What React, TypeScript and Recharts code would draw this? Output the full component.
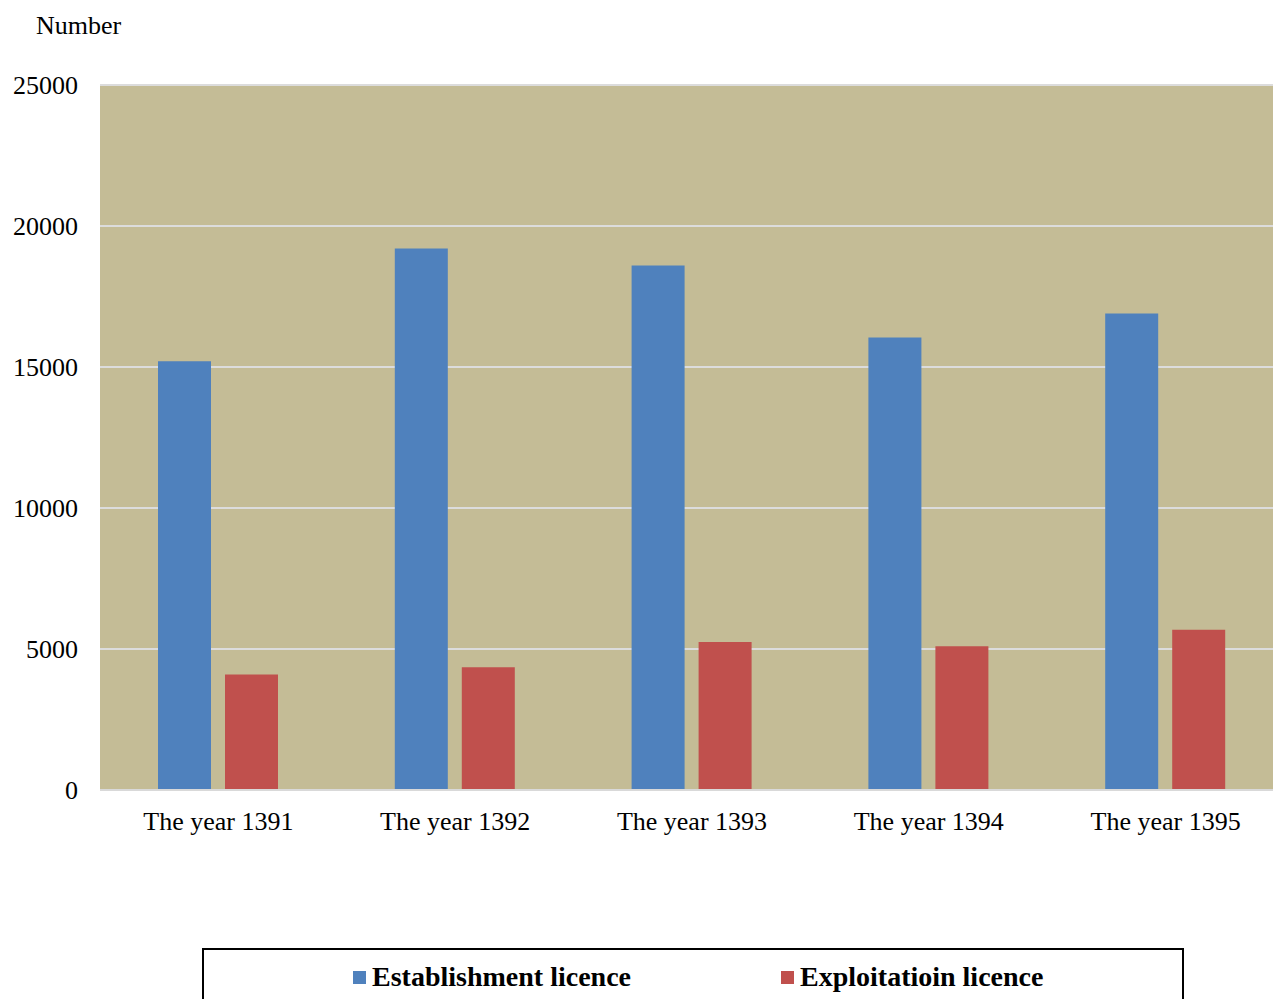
import { Bar, BarChart, CartesianGrid, XAxis, YAxis } from "recharts";

const YEARS = ["The year 1391", "The year 1392", "The year 1393", "The year 1394", "The year 1395"];
const ESTABLISHMENT = [15200, 19200, 18600, 16050, 16900];
const EXPLOITATION = [4100, 4350, 5250, 5100, 5680];
const Y_TICKS = [0, 5000, 10000, 15000, 20000, 25000];
const SERIES_NAMES = ["Establishment licence", "Exploitatioin licence"];
const COLORS = ["#4F81BD", "#C0504D"];

const FONT = '"Liberation Serif", "Times New Roman", serif';

export default function App() {
  const data = YEARS.map((year, i) => ({
    year,
    establishment: ESTABLISHMENT[i],
    exploitation: EXPLOITATION[i],
  }));

  return (
    <div
      style={{
        position: "absolute",
        top: 0,
        left: 0,
        width: 1273,
        height: 999,
        overflow: "hidden",
        background: "#fff",
        fontFamily: FONT,
      }}
    >
      <div style={{ position: "absolute", left: 36, top: 11, fontSize: 26, color: "#000" }}>
        Number
      </div>
      {/* the source image is cropped on the right, so the plot runs a little past the edge */}
      <BarChart
        width={1284}
        height={999}
        data={data}
        margin={{ top: 85, right: 0, bottom: 179, left: 1 }}
        barSize={53}
        barGap={14}
      >
        <CartesianGrid
          vertical={false}
          fill="#C4BC96"
          fillOpacity={1}
          stroke="#DCDCDC"
          strokeWidth={2}
        />
        <XAxis
          dataKey="year"
          height={30}
          axisLine={{ stroke: "#D9D9D9", strokeWidth: 2 }}
          tickLine={false}
          tickMargin={16}
          tick={{ fill: "#000", fontSize: 26, fontFamily: FONT }}
        />
        <YAxis
          width={99}
          domain={[0, 25000]}
          ticks={Y_TICKS}
          axisLine={false}
          tickLine={false}
          tickMargin={16}
          tick={{ fill: "#000", fontSize: 26, fontFamily: FONT }}
        />
        <Bar dataKey="establishment" name={SERIES_NAMES[0]} fill={COLORS[0]} isAnimationActive={false} />
        <Bar dataKey="exploitation" name={SERIES_NAMES[1]} fill={COLORS[1]} isAnimationActive={false} />
      </BarChart>
      <div
        style={{
          position: "absolute",
          left: 202,
          top: 948,
          width: 978,
          height: 80,
          border: "2px solid #000",
          boxSizing: "content-box",
        }}
      >
        {SERIES_NAMES.map((name, i) => (
          <div
            key={name}
            style={{
              position: "absolute",
              left: i === 0 ? 149 : 577,
              top: 11,
              display: "flex",
              alignItems: "center",
              fontSize: 28,
              fontWeight: "bold",
              color: "#000",
              whiteSpace: "nowrap",
            }}
          >
            <span
              style={{
                display: "inline-block",
                width: 13,
                height: 13,
                background: COLORS[i],
                marginRight: 6,
              }}
            />
            {name}
          </div>
        ))}
      </div>
    </div>
  );
}
